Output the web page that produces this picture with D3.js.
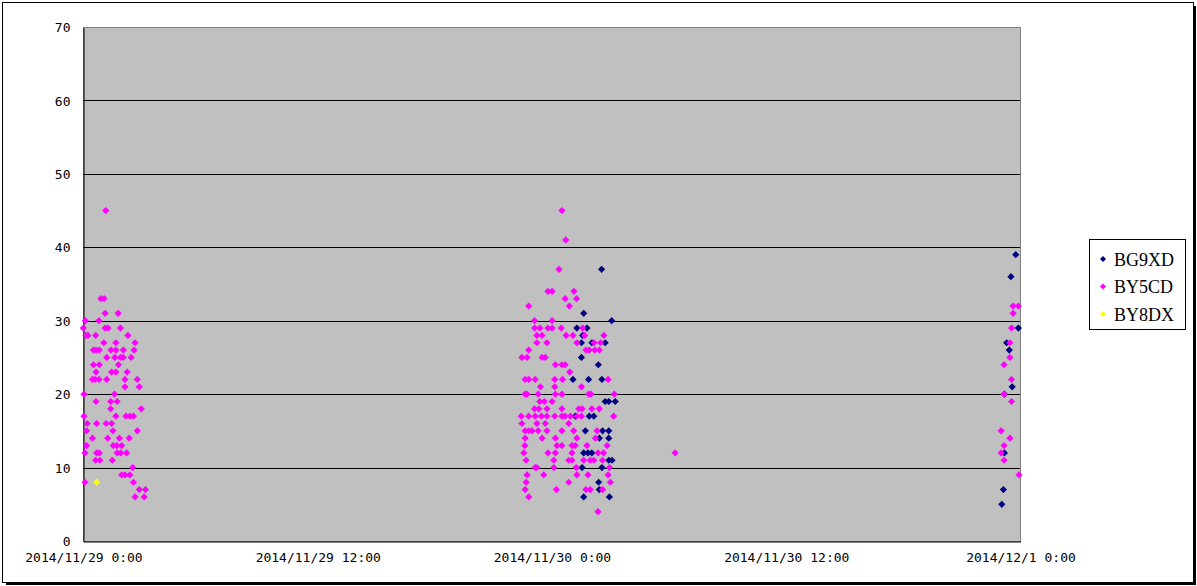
<!DOCTYPE html>
<html>
<head>
<meta charset="utf-8">
<script src="https://cdn.jsdelivr.net/npm/d3@7"></script>
<style>
html,body{margin:0;padding:0;background:#fff;}
svg{display:block;}
</style>
</head>
<body>
<svg id="chart" width="1197" height="586"></svg>
<script>
// ---- data ----
const seriesNames = ["BG9XD", "BY5CD", "BY8DX"];
const seriesColors = ["#000080", "#FF00FF", "#FFFF00"];
const yTicks = [0, 10, 20, 30, 40, 50, 60, 70];
const xTickLabels = ["2014/11/29 0:00", "2014/11/29 12:00", "2014/11/30 0:00", "2014/11/30 12:00", "2014/12/1 0:00"];

const BG9XD = [
  ["11/30 02:34",37],["11/30 01:39",31],["11/30 03:05",30],["11/30 01:18",29],["11/30 01:49",29],
  ["11/30 01:36",28],["11/30 01:32",27],["11/30 02:04",27],["11/30 02:45",27],["11/30 01:32",25],
  ["11/30 02:24",24],["11/30 01:06",22],["11/30 01:54",22],["11/30 02:35",22],["11/30 02:45",19],
  ["11/30 02:56",19],["11/30 03:16",19],["11/30 01:13",17],["11/30 01:56",17],["11/30 02:10",17],
  ["11/30 01:44",15],["11/30 02:37",15],["11/30 02:56",15],["11/30 02:27",14],["11/30 02:56",14],
  ["11/30 01:39",12],["11/30 01:52",12],["11/30 02:04",12],["11/30 02:56",11],["11/30 03:06",11],
  ["11/30 01:34",10],["11/30 02:35",10],["11/30 02:25",8],["11/30 02:27",7],["11/30 01:39",6],
  ["11/30 02:58",6],
  ["11/30 23:47",39],["11/30 23:32",36],["11/30 23:55",29],["11/30 23:19",27],["11/30 23:27",26],
  ["11/30 23:36",21],["11/30 23:12",20],["11/30 23:12",12],["11/30 23:09",7],["11/30 23:04",5]
];

const BY5CD = [
  // 11/29 early morning
  ["11/29 01:10",45],["11/29 00:55",33],["11/29 01:05",33],["11/29 01:08",31],["11/29 01:48",31],
  ["11/29 00:07",30],["11/29 00:49",30],["11/29 00:01",29],["11/29 01:08",29],["11/29 01:17",29],
  ["11/29 01:55",29],["11/29 00:09",28],["11/29 00:15",28],["11/29 00:39",28],["11/29 02:18",28],
  ["11/29 01:04",27],["11/29 01:41",27],["11/29 02:40",27],["11/29 00:32",26],["11/29 00:40",26],
  ["11/29 00:50",26],["11/29 01:26",26],["11/29 01:41",26],["11/29 02:04",26],["11/29 02:37",26],
  ["11/29 01:13",25],["11/29 01:38",25],["11/29 01:56",25],["11/29 02:04",25],["11/29 02:28",25],
  ["11/29 00:32",24],["11/29 00:50",24],["11/29 01:49",24],["11/29 00:40",23],["11/29 01:28",23],
  ["11/29 01:41",23],["11/29 02:16",23],["11/29 00:29",22],["11/29 00:37",22],["11/29 00:49",22],
  ["11/29 01:13",22],["11/29 02:09",22],["11/29 02:47",22],["11/29 02:09",21],["11/29 02:53",21],
  ["11/29 00:03",20],["11/29 01:37",20],["11/29 00:40",19],["11/29 01:25",19],["11/29 01:45",19],
  ["11/29 01:25",18],["11/29 02:59",18],["11/29 00:03",17],["11/29 01:41",17],["11/29 02:12",17],
  ["11/29 02:24",17],["11/29 02:35",17],["11/29 00:13",16],["11/29 00:42",16],["11/29 01:11",16],
  ["11/29 01:28",16],["11/29 00:11",15],["11/29 01:32",15],["11/29 02:47",15],["11/29 00:29",14],
  ["11/29 01:16",14],["11/29 01:52",14],["11/29 02:22",14],["11/29 00:11",13],["11/29 01:33",13],
  ["11/29 01:44",13],["11/29 01:59",13],["11/29 00:06",12],["11/29 00:42",12],["11/29 00:50",12],
  ["11/29 01:45",12],["11/29 01:56",12],["11/29 02:14",12],["11/29 00:39",11],["11/29 00:52",11],
  ["11/29 01:30",11],["11/29 02:33",10],["11/29 01:59",9],["11/29 02:09",9],["11/29 02:24",9],
  ["11/29 00:06",8],["11/29 02:35",8],["11/29 02:53",7],["11/29 03:12",7],["11/29 02:40",6],
  ["11/29 03:08",6],
  // around 11/30 0:00
  ["11/30 00:32",45],["11/30 00:44",41],["11/30 00:23",37],["11/29 23:49",34],["11/30 00:02",34],
  ["11/30 01:09",34],["11/30 00:42",33],["11/30 01:17",33],["11/29 22:50",32],["11/30 00:55",32],
  ["11/29 23:08",30],["11/30 00:02",30],["11/29 23:08",29],["11/29 23:24",29],["11/29 23:49",29],
  ["11/30 00:02",29],["11/30 00:30",29],["11/30 01:36",29],["11/29 23:15",28],["11/29 23:31",28],
  ["11/30 00:45",28],["11/30 01:06",28],["11/30 01:42",28],["11/30 02:41",28],["11/29 23:15",27],
  ["11/29 23:46",27],["11/30 01:18",27],["11/30 02:11",27],["11/30 02:31",27],["11/29 22:50",26],
  ["11/30 01:46",26],["11/30 01:56",26],["11/30 02:13",26],["11/30 02:27",26],["11/29 22:29",25],
  ["11/29 22:45",25],["11/29 23:31",25],["11/29 23:41",25],["11/30 00:12",24],["11/30 00:32",24],
  ["11/30 00:42",24],["11/30 00:56",23],["11/29 22:39",22],["11/29 22:50",22],["11/29 23:10",22],
  ["11/30 00:10",22],["11/30 00:34",22],["11/30 02:54",22],["11/29 23:26",21],["11/30 00:10",21],
  ["11/30 01:32",21],["11/29 22:39",20],["11/29 22:45",20],["11/29 23:19",20],["11/30 00:12",20],
  ["11/30 00:32",20],["11/30 01:54",20],["11/30 02:01",20],["11/30 03:13",20],["11/29 23:24",19],
  ["11/29 23:38",19],["11/30 00:02",19],["11/29 23:08",18],["11/29 23:21",18],["11/29 23:46",18],
  ["11/30 00:32",18],["11/30 01:24",18],["11/30 01:34",18],["11/30 02:04",18],["11/30 02:27",18],
  ["11/29 22:27",17],["11/29 22:50",17],["11/29 23:10",17],["11/29 23:29",17],["11/29 23:46",17],
  ["11/30 00:10",17],["11/30 00:32",17],["11/30 00:42",17],["11/30 00:58",17],["11/30 01:18",17],
  ["11/30 01:32",17],["11/30 03:11",17],["11/29 22:29",16],["11/29 23:15",16],["11/29 23:41",16],
  ["11/30 00:53",16],["11/29 22:39",15],["11/29 22:50",15],["11/29 23:00",15],["11/29 23:19",15],
  ["11/29 23:46",15],["11/30 00:32",15],["11/30 01:08",15],["11/30 02:20",15],["11/29 22:39",14],
  ["11/29 23:31",14],["11/30 00:12",14],["11/30 01:18",14],["11/30 02:15",14],["11/29 22:38",13],
  ["11/30 00:17",13],["11/30 00:32",13],["11/30 01:03",13],["11/30 01:13",13],["11/30 01:49",13],
  ["11/30 02:51",13],["11/29 22:35",12],["11/29 23:49",12],["11/30 00:12",12],["11/30 01:03",12],
  ["11/30 02:23",12],["11/30 02:40",12],["11/29 22:42",11],["11/30 00:07",11],["11/30 00:53",11],
  ["11/30 01:03",11],["11/30 01:39",11],["11/30 01:59",11],["11/30 02:10",11],["11/30 02:37",11],
  ["11/29 23:10",10],["11/29 23:15",10],["11/30 00:07",10],["11/30 01:16",10],["11/30 02:58",10],
  ["11/29 22:45",9],["11/29 23:36",9],["11/30 01:18",9],["11/30 01:52",9],["11/30 02:54",9],
  ["11/29 22:42",8],["11/30 00:53",8],["11/30 03:01",8],["11/29 22:39",7],["11/30 00:15",7],
  ["11/30 01:46",7],["11/30 01:59",7],["11/30 02:37",7],["11/29 22:50",6],["11/30 02:23",4],
  ["11/30 06:20",12],
  // before 12/1 0:00
  ["11/30 23:39",32],["11/30 23:55",32],["11/30 23:39",31],["11/30 23:34",29],["11/30 23:29",27],
  ["11/30 23:29",25],["11/30 23:11",24],["11/30 23:34",22],["11/30 23:11",20],["11/30 23:34",19],
  ["11/30 23:02",15],["11/30 23:29",14],["11/30 23:11",13],["11/30 23:02",12],["11/30 23:11",11],
  ["11/30 23:57",9]
];

const BY8DX = [["11/29 00:42",8]];

// ---- chart ----
const parse = d3.timeParse("%Y/%m/%d %H:%M");
const toDate = s => parse("2014/" + s);
const allSeries = [BG9XD, BY5CD, BY8DX];

const svg = d3.select("#chart");
const plot = {left: 83, top: 27, right: 1020, bottom: 541};

// outer frame with shadow
svg.append("rect").attr("x", 6).attr("y", 582).attr("width", 1190).attr("height", 3).attr("fill", "#000");
svg.append("rect").attr("x", 1193).attr("y", 6).attr("width", 3).attr("height", 579).attr("fill", "#000");
svg.append("rect").attr("x", 2.5).attr("y", 2.5).attr("width", 1191).attr("height", 580)
  .attr("fill", "#fff").attr("stroke", "#000").attr("stroke-width", 1);

const x = d3.scaleTime()
  .domain([parse("2014/11/29 00:00"), parse("2014/12/01 00:00")])
  .range([plot.left, plot.right]);
const y = d3.scaleLinear().domain([0, 70]).range([plot.bottom, plot.top]);

// plot area
svg.append("rect")
  .attr("x", plot.left + 0.5).attr("y", plot.top + 0.5)
  .attr("width", plot.right - plot.left).attr("height", plot.bottom - plot.top)
  .attr("fill", "#C0C0C0").attr("stroke", "#808080").attr("stroke-width", 1);

// gridlines
svg.append("g").selectAll("line").data(yTicks.filter(v => v > 0 && v < 70)).join("line")
  .attr("x1", plot.left).attr("x2", plot.right)
  .attr("y1", d => Math.round(y(d)) + 0.5).attr("y2", d => Math.round(y(d)) + 0.5)
  .attr("stroke", "#000").attr("stroke-width", 1);

const fontMono = "'DejaVu Sans Mono', 'Liberation Mono', monospace";

// y axis
const yAxis = svg.append("g").attr("transform", `translate(${plot.left + 0.5},0.5)`)
  .call(d3.axisLeft(y).tickValues(yTicks).tickSize(0).tickPadding(13).tickFormat(d3.format("d")));
yAxis.select(".domain").attr("stroke", "#000");
yAxis.selectAll("text").attr("font-family", fontMono).attr("font-size", "13px").attr("fill", "#000");

// x axis
const xTickDates = xTickLabels.map(s => parse(s.replace(/\/(\d)\b/g, "/0$1").replace(/ (\d):/, " 0$1:")));
const xAxis = svg.append("g").attr("transform", `translate(0.5,${plot.bottom + 0.5})`)
  .call(d3.axisBottom(x).tickValues(xTickDates).tickSize(0).tickPadding(11)
    .tickFormat((d, i) => xTickLabels[i]));
xAxis.select(".domain").attr("stroke", "#000");
xAxis.selectAll("text").attr("font-family", fontMono).attr("font-size", "13px").attr("fill", "#000")
  .style("white-space", "pre");

// markers
const diamond = r => `M0,${-r}L${r},0L0,${r}L${-r},0Z`;
allSeries.forEach((data, i) => {
  svg.append("g").selectAll("path").data(data).join("path")
    .attr("d", diamond(3.6))
    .attr("transform", d => `translate(${x(toDate(d[0]))},${y(d[1])})`)
    .attr("fill", seriesColors[i]);
});

// legend
const lg = svg.append("g");
lg.append("rect").attr("x", 1089.5).attr("y", 239.5).attr("width", 96).attr("height", 90)
  .attr("fill", "#fff").attr("stroke", "#000").attr("stroke-width", 1);
seriesNames.forEach((name, i) => {
  const cy = 259 + i * 27.5;
  lg.append("path").attr("d", diamond(3)).attr("transform", `translate(1103,${cy})`).attr("fill", seriesColors[i]);
  lg.append("text").attr("x", 1114).attr("y", cy + 6.5).text(name)
    .attr("font-family", "'Liberation Serif', 'Times New Roman', serif").attr("font-size", "18px").attr("fill", "#000");
});
</script>
</body>
</html>
